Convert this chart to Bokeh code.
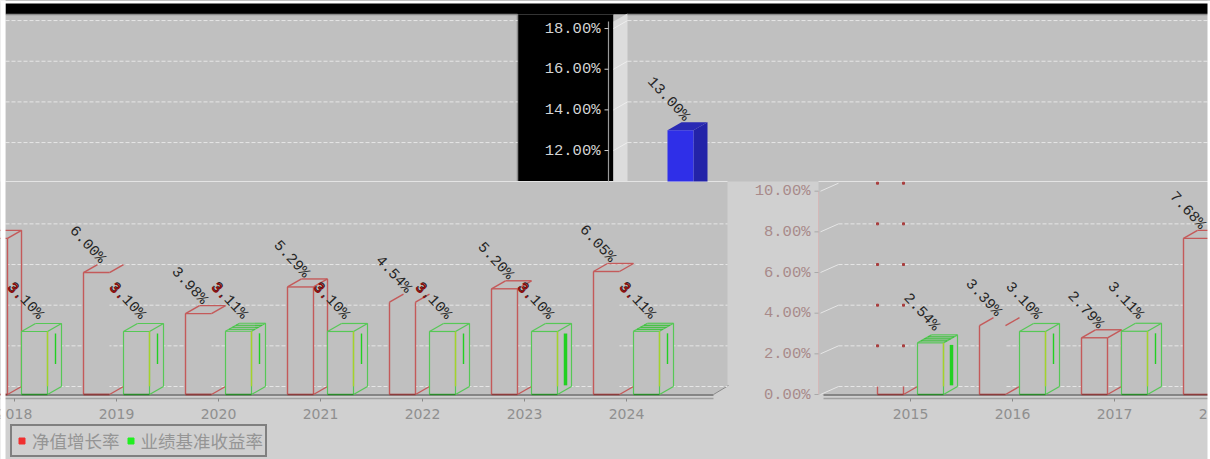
from bokeh.plotting import figure
from bokeh.models import Range1d, Legend, LegendItem
from bokeh.core.properties import value
from bokeh.embed import file_html
from bokeh.resources import INLINE

# ---- data ----
years = [2015, 2016, 2017, 2018, 2019, 2020, 2021, 2022, 2023, 2024]
net_growth = [13.00, 3.39, 2.79, 7.68, 6.00, 3.98, 5.29, 4.54, 5.20, 6.05]
benchmark = [2.54, 3.10, 3.11, 3.10, 3.10, 3.11, 3.10, 3.10, 3.10, 3.11]
ticks_low = [0, 2, 4, 6, 8, 10]
ticks_high = [12, 14, 16, 18]
series_names = ["净值增长率", "业绩基准收益率"]

# ---- geometry (picture pixels) ----
F_L, F_R, F_T, F_B = 0, 1210, 0, 459
BASE_PY, PX_PCT, PX_YEAR = 394.0, 20.33, 102.0
TICK2015 = 910.0
DX, DY = 14 / PX_YEAR, 8 / PX_PCT
SHIFT = {"C": 0, "A": -210, "B": -1202}

p = figure(width=F_R - F_L, height=F_B - F_T, output_backend="svg", toolbar_location=None,
           x_range=Range1d(F_L, F_R), y_range=Range1d((BASE_PY - F_B) / PX_PCT, (BASE_PY - F_T) / PX_PCT),
           min_border=0, outline_line_color=None, background_fill_color="#d0d0d0", border_fill_color="#d0d0d0")
p.axis.visible = False
p.grid.visible = False
for k, s in SHIFT.items():
    p.extra_x_ranges[k] = Range1d(2015 + (F_L - TICK2015 - s) / PX_YEAR, 2015 + (F_R - TICK2015 - s) / PX_YEAR)


def pct(py):
    return (BASE_PY - py) / PX_PCT


def yr(px):  # pixel offset from tick -> years
    return px / PX_YEAR


def box(x0, x1, y0, y1, c):
    p.quad(left=x0, right=x1, bottom=pct(y1), top=pct(y0), fill_color=c, line_color=None)


GRAY, LIGHT = "#c0c0c0", "#d0d0d0"
# upper strip
box(5, 1210, 0, 14, "#000000")
box(5, 517, 14, 181, GRAY)
box(517, 613, 14, 181, "#000000")
box(613, 1210, 14, 181, GRAY)
p.patch([613, 627, 627, 613], [pct(21), pct(13), pct(181), pct(181)], fill_color="#dcdcdc", line_color=None)
p.segment([5, 517], [pct(14), pct(14)], [517, 517], [pct(14), pct(181)], line_color="#8a8a8a", line_width=1.5)
p.segment([627], [pct(14)], [1210], [pct(14)], line_color="#8a8a8a", line_width=1.5)
# lower strip
p.patch([0, 713, 727, 727, 0], [pct(394), pct(394), pct(385), pct(181), pct(181)], fill_color=GRAY, line_color=None)
box(818, 1210, 181, 394, GRAY)
p.segment([5, 818], [pct(181)] * 2, [727, 1210], [pct(181)] * 2, line_color="#e4e4e4", line_width=1)
# floors
p.segment([0, 823], [pct(394.5)] * 2, [713, 1210], [pct(394.5)] * 2, line_color="#6e6e6e", line_width=1.3)
p.segment([0, 823], [pct(398)] * 2, [713, 1210], [pct(398)] * 2, line_color="#a0a0a0", line_width=1.6)
p.segment([713], [pct(394)], [728], [pct(385)], line_color="#8a8a8a")

# grid lines on the back wall
GRID = dict(line_color="#e6e6e6", line_width=1, line_dash="4 2")
hi = [t + DY for t in ticks_high]
lo = [t + DY for t in ticks_low[:-1]]
p.segment([5] * 4, hi, [517] * 4, hi, **GRID)
p.segment([627] * 4, hi, [1210] * 4, hi, **GRID)
p.segment([5] * 5, lo, [727] * 5, lo, **GRID)
p.segment([838] * 5, lo, [1210] * 5, lo, **GRID)
p.segment([820] * 6, ticks_low, [838] * 6, [t + DY for t in ticks_low], line_color="#e6e6e6", line_width=1)
p.segment([613] * 4, ticks_high, [627] * 4, hi, line_color="#eeeeee", line_width=1)

# axis lines
p.segment([608], [pct(181)], [608], [pct(21)], line_color="#9a9a9a", line_width=1.2)
p.segment([818], [0], [818], [10], line_color="#d4b8b8", line_width=1)

axis_year = 2015 + yr(810 - TICK2015)
tick_font = value("Liberation Mono")
TICK_PX = 15.5
LABEL_PX = 15
CHAR_PX = 9.0


def ticks(panel, vals, color, mark):
    p.segment([axis_year + yr(4)] * len(vals), vals, [axis_year + yr(8)] * len(vals), vals,
              line_color=mark, x_range_name=panel)
    p.text(x=[axis_year] * len(vals), y=vals, text=["%.2f%%" % v for v in vals], x_range_name=panel,
           text_font=tick_font, text_font_size="%spx" % TICK_PX, text_color=color, text_align="right",
           text_baseline="middle")


ticks("A", ticks_high, "#d4d4d4", "#cfcfcf")
ticks("C", ticks_low, "#a88a8a", "#a8a8a8")

RED, RED_D, GRN, GRN_D = "#c45a5a", "#8c3c3c", "#56c856", "#2a8a2a"
W = yr(26)
ALL = {"L", "R", "T", "B", "SL", "SR", "TB", "W", "BE"}
red_parts = {
    2015: {"B", "W", "LS", "RS"},
    2016: {"L", "B", "W", "SL", "SR"},
    2017: ALL,
    2018: ALL,
    2019: {"L", "T", "B", "W", "SL", "SR"},
    2020: {"L", "T", "B", "W", "SL", "SR", "TB"},
    2021: ALL,
    2022: {"L", "R", "B", "W", "SL", "SR"},
    2023: {"L", "R", "T", "B", "W", "SL", "SR", "TB"},
    2024: {"L", "T", "B", "W", "SL", "SR", "TB"},
}
ANGLE = 47
COS, SIN = 0.682, 0.731
RED_LX, RED_LY = 19, 11       # end of a label relative to its bar, pixels
GRN_LX, GRN_LY = 19, 14


def edges(x0, v, parts):
    x1 = x0 + W
    out = {
        "L": ([x0, x0], [0, v]), "R": ([x1, x1], [0, v]), "T": ([x0, x1], [v, v]), "B": ([x0, x1], [0, 0]),
        "SL": ([x0, x0 + DX], [v, v + DY]), "SR": ([x1, x1 + DX], [v, v + DY]),
        "TB": ([x0 + DX, x1 + DX], [v + DY, v + DY]),
        "W": ([x1, x1 + DX], [0, DY]), "BE": ([x1 + DX, x1 + DX], [DY, v + DY]),
        "LS": ([x0, x0], [0, DY]), "RS": ([x1, x1], [0, DY]),
    }
    return [out[k] for k in parts]


def draw_bars(panel, shown):
    for y, r, g in zip(years, net_growth, benchmark):
        if y not in shown:
            continue
        p.segment([y], [pct(398)], [y], [pct(401)], line_color="#8a8a8a", x_range_name=panel)
        p.text(x=[y], y=[pct(413.5)], text=[str(y)], x_range_name=panel,
               text_font=value("DejaVu Sans"), text_font_size="14px", text_color="#8f8f8f",
               text_align="center", text_baseline="middle")
        # net growth bar
        rx = y + yr(-33)
        rv = 0 if y == 2015 else r
        parts = red_parts[y]
        if y != 2015:
            p.quad(left=[rx], right=[rx + W], bottom=[0], top=[rv], fill_color=GRAY, line_color=None,
                   x_range_name=panel)
        else:
            # only specks of this bar's edges remain on the grid lines
            lv = [t + DY for t in ticks_low[1:]]
            p.scatter([rx] * 5 + [rx + W] * 5, lv + lv, marker="square", size=2, color="#a83c3c",
                      x_range_name=panel)
        ee = edges(rx, rv, parts)
        p.multi_line([e[0] for e in ee], [e[1] for e in ee], line_color=RED, line_width=1.4, x_range_name=panel)
        p.segment([rx], [0], [rx + W], [0], line_color=RED_D, line_width=1.3, x_range_name=panel)
        # benchmark bar
        gx = y + yr(7)
        gx1 = gx + W
        p.patch([gx1, gx1 + DX, gx1 + DX, gx1], [0, DY, g + DY, g], fill_color=GRAY, line_color=None, x_range_name=panel)
        p.quad(left=[gx], right=[gx1], bottom=[0], top=[g], fill_color=GRAY, line_color=None, x_range_name=panel)
        ee = edges(gx, g, ALL)
        p.multi_line([e[0] for e in ee], [e[1] for e in ee], line_color=GRN, line_width=1.2, x_range_name=panel)
        p.segment([gx], [0], [gx1], [0], line_color=GRN_D, line_width=1.3, x_range_name=panel)
        p.segment([gx1], [0.4], [gx1], [g], line_color="#a6d22a", line_width=1.4, x_range_name=panel)
        # bright glitch streaks on the side face
        thick = y in (2015, 2023)
        p.segment([gx1 + yr(8)], [0.45 if thick else 1.5], [gx1 + yr(8)], [g - 0.1], line_color="#22d022",
                  line_width=3.5 if thick else 1.4, x_range_name=panel)
        if y in (2015, 2020, 2024):
            for k in (0.25, 0.5, 0.75):
                p.segment([gx + DX * k], [g + DY * k], [gx1 + DX * k], [g + DY * k], line_color="#38c038",
                          line_width=1.2, x_range_name=panel)
        # labels
        lab = dict(text_font=tick_font, text_font_size="%spx" % LABEL_PX, text_color="#262626", text_align="right",
                   text_baseline="middle", angle=-ANGLE, angle_units="deg", x_range_name=panel)
        if y != 2015 and not (panel == "B" and y == 2018):
            p.text(x=[rx + yr(RED_LX)], y=[r + RED_LY / PX_PCT], text=["%.2f%%" % r], **lab)
        p.text(x=[gx + yr(GRN_LX)], y=[g + GRN_LY / PX_PCT], text=["%.2f%%" % g], **lab)
        if y >= 2018:
            # the darker, doubled "3." at the start of these labels
            span = 5 * CHAR_PX
            lab2 = {**lab, "text_color": "#8a0f0f", "text_font_style": "bold", "text_align": "left"}
            p.text(x=[gx + yr(GRN_LX) - yr(span * COS)], y=[g + (GRN_LY + span * SIN) / PX_PCT], text=["3."], **lab2)


draw_bars("B", [2018, 2019, 2020, 2021, 2022, 2023, 2024])
draw_bars("C", [2015, 2016, 2017, 2018])

# the blue fragment of the 2015 net growth bar
y0 = years[0]
v = net_growth[0]
rx = y0 + yr(-33)
floor_v = pct(181)
p.patch([rx + W, rx + W + DX, rx + W + DX, rx + W], [floor_v, floor_v, v + DY, v], fill_color="#2323a8",
        line_color=None, x_range_name="A")
p.patch([rx, rx + DX, rx + W + DX, rx + W], [v, v + DY, v + DY, v], fill_color="#2a2ab4", line_color=None,
        x_range_name="A")
p.quad(left=[rx], right=[rx + W], bottom=[floor_v], top=[v], fill_color="#2f2fe8", line_color=None, x_range_name="A")
p.text(x=[rx + yr(RED_LX)], y=[v + RED_LY / PX_PCT], text=["%.2f%%" % v], text_font=tick_font,
       text_font_size="%spx" % LABEL_PX, text_color="#262626", text_align="right", text_baseline="middle",
       angle=-ANGLE, angle_units="deg", x_range_name="A")

# white margins of the screenshot
box(0, 5, 0, 459, "#ffffff")
box(0, 1210, 0, 3, "#ffffff")
box(1207, 1210, 0, 459, "#ffffff")

# legend
r1 = p.scatter(x=[-1000], y=[-1000], marker="square", size=9, color="#f03030")
r2 = p.scatter(x=[-1000], y=[-1000], marker="square", size=9, color="#20f020")
legend = Legend(items=[LegendItem(label=series_names[0], renderers=[r1]), LegendItem(label=series_names[1], renderers=[r2])],
                orientation="horizontal", location=(10, 2), margin=0, padding=2, spacing=3,
                glyph_width=15, glyph_height=15, label_standoff=3,
                label_text_font="Noto Sans CJK SC", label_text_font_size="17.5px", label_text_color="#959595",
                background_fill_color=LIGHT, background_fill_alpha=1,
                border_line_color="#303030", border_line_width=2)
p.add_layout(legend, "center")

open("out.html", "w").write(file_html(p, INLINE))
